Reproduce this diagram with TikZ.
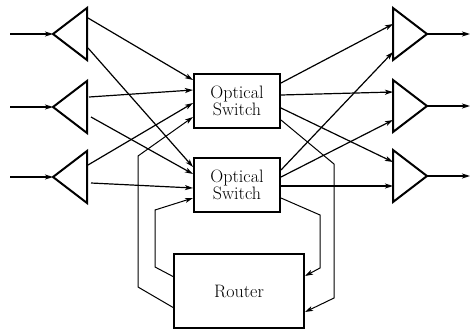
\documentclass[tikz,border=0pt]{standalone}
\usetikzlibrary{arrows.meta}
\begin{document}
\begin{tikzpicture}[x=1pt,y=-1pt,
  amp/.style={line width=2pt,line join=miter},
  box/.style={draw,line width=2.2pt,inner sep=0pt,outer sep=0pt},
  con/.style={line width=1.2pt,-{Stealth[length=8pt,width=5pt,inset=2pt]}},
  fb/.style={line width=1pt,-{Stealth[length=8pt,width=5pt,inset=2pt]}},
  lbl/.style={font=\fontsize{18}{15}\selectfont,align=center}]
\useasboundingbox (0,0) rectangle (474,330);
% boxes
\node[box,minimum width=86pt,minimum height=54pt] (sw1) at (237,101) {};
\node[lbl] (l1) at (237,101) {Optical\\Switch};
\node[box,minimum width=86pt,minimum height=54pt] (sw2) at (237,185) {};
\node[lbl] (l2) at (237,185) {Optical\\Switch};
\node[box,minimum width=130pt,minimum height=74pt] (rt) at (239,291) {};
\node[lbl] (l3) at (239,291) {Router};
% left amplifiers
\foreach \i/\y in {1/34,2/107,3/177}{
  \coordinate (la\i) at (53,\y);
  \coordinate (li\i) at (10,\y);
  \draw[amp] (87,\y-26) -- (la\i) -- (87,\y+26) -- cycle;
  \draw[con] (li\i) -- (la\i);
}
% right amplifiers
\foreach \i/\y in {1/34,2/106,3/176}{
  \coordinate (ra\i) at (427,\y);
  \coordinate (ro\i) at (470,\y);
  \draw[amp] (393,\y-26) -- (ra\i) -- (393,\y+26) -- cycle;
  \draw[con] (ra\i) -- (ro\i);
}
% left connectors
\coordinate (a1) at (88,18);  \coordinate (s1a) at (193,80);
\coordinate (a2) at (88,48);  \coordinate (s2a) at (193,167);
\coordinate (a3) at (89,97);  \coordinate (s1b) at (193,90);
\coordinate (a4) at (91,117); \coordinate (s2b) at (193,174);
\coordinate (a5) at (88,165); \coordinate (s1c) at (193,103);
\coordinate (a6) at (91,183); \coordinate (s2c) at (193,188);
\draw[con] (a1) -- (s1a);
\draw[con] (a2) -- (s2a);
\draw[con] (a3) -- (s1b);
\draw[con] (a4) -- (s2b);
\draw[con] (a5) -- (s1c);
\draw[con] (a6) -- (s2c);
% right connectors
\coordinate (t1) at (281,83);  \coordinate (b1) at (393,24);
\coordinate (t2) at (281,95);  \coordinate (b2) at (393,92);
\coordinate (t3) at (281,108); \coordinate (b3) at (393,162);
\coordinate (u1) at (281,170); \coordinate (c1) at (393,52);
\coordinate (u2) at (281,177); \coordinate (c2) at (393,120);
\coordinate (u3) at (281,186); \coordinate (c3) at (393,186);
\draw[con] (t1) -- (b1);
\draw[con] (t2) -- (b2);
\draw[con] (t3) -- (b3);
\draw[con] (u1) -- (c1);
\draw[con] (u2) -- (c2);
\draw[con] (u3) -- (c3);
% feedback loops
\coordinate (r1) at (174,308); \coordinate (s1d) at (193,117);
\draw[fb] (r1) -- (138,287) -- (138,156) -- (s1d);
\coordinate (r2) at (174,277); \coordinate (s2d) at (193,198);
\draw[fb] (r2) -- (155,267) -- (155,210) -- (s2d);
\coordinate (t4) at (281,120); \coordinate (r3) at (305,312);
\draw[fb] (t4) -- (334,164) -- (334,298) -- (r3);
\coordinate (u4) at (281,198); \coordinate (r4) at (305,276);
\draw[fb] (u4) -- (320,215) -- (320,268) -- (r4);
\end{tikzpicture}
\end{document}
